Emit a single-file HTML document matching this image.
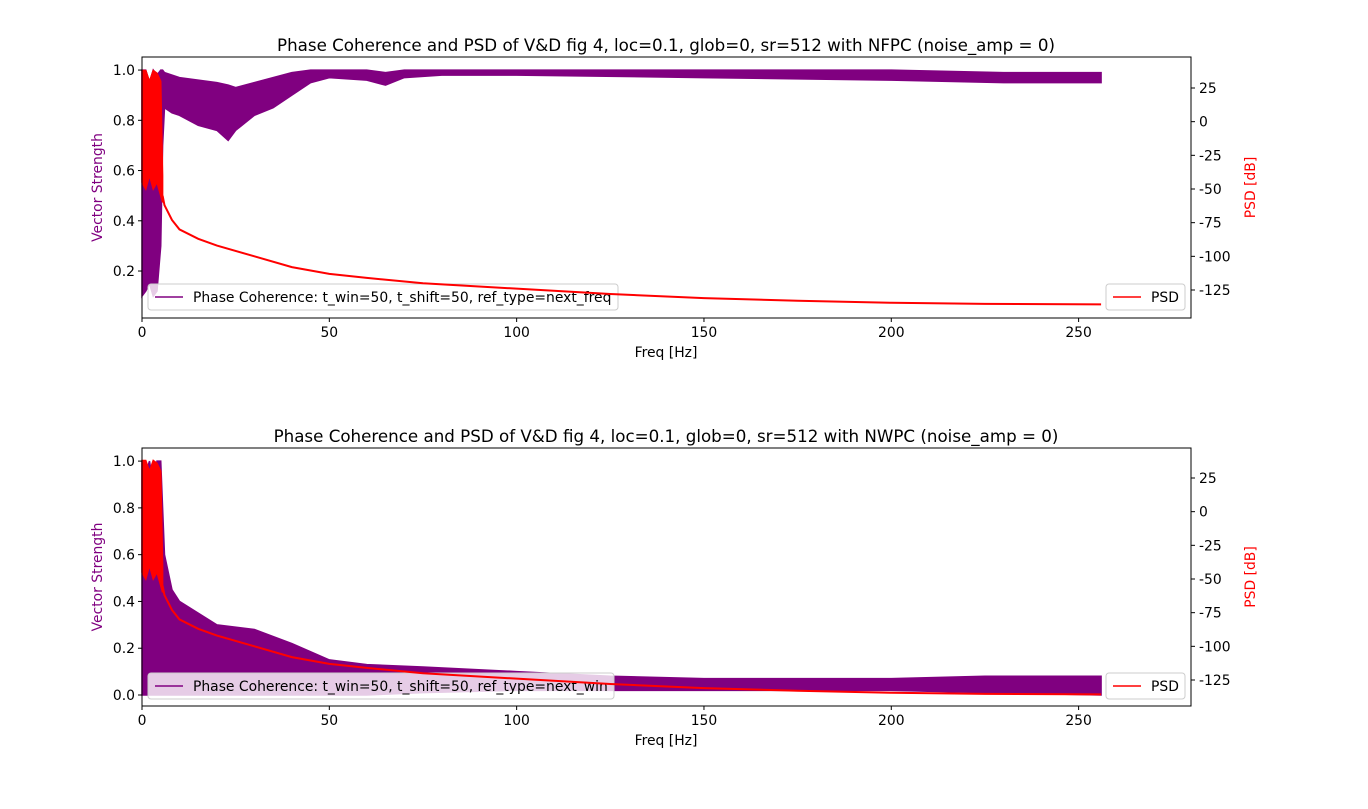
<!DOCTYPE html>
<html><head><meta charset="utf-8"><style>
body{margin:0;background:#fff}
svg text{font-family:"DejaVu Sans","Liberation Sans",sans-serif;}
</style></head><body>
<svg id="fig" width="1368" height="804" xmlns="http://www.w3.org/2000/svg"></svg>
<script>
// ---- data ----
const xTicks=[0,50,100,150,200,250];
const vsTicks1=[0.2,0.4,0.6,0.8,1.0];
const vsTicks2=[0.0,0.2,0.4,0.6,0.8,1.0];
const psdTicks=[25,0,-25,-50,-75,-100,-125];
// top: NFPC coherence envelope
const pc1Freq=[0,1,2,3,4,5,5.5,6,8,10,15,20,23,25,30,35,40,45,50,60,65,70,80,100,150,200,230,256];
const pc1Upper=[1.0,1.0,0.95,1.0,0.98,1.0,1.0,0.99,0.98,0.97,0.96,0.95,0.94,0.93,0.95,0.97,0.99,1.0,1.0,1.0,0.99,1.0,1.0,1.0,1.0,1.0,0.99,0.99];
const pc1Lower=[0.1,0.12,0.15,0.1,0.12,0.3,0.7,0.85,0.83,0.82,0.78,0.76,0.72,0.76,0.82,0.85,0.9,0.95,0.97,0.96,0.94,0.97,0.98,0.98,0.97,0.96,0.95,0.95];
// bottom: NWPC coherence envelope
const pc2Freq=[0,1,2,3,4,5,5.5,6,8,10,15,20,30,40,50,60,75,100,125,150,200,225,256];
const pc2Upper=[1.0,0.95,1.0,0.9,1.0,1.0,0.8,0.6,0.45,0.4,0.35,0.3,0.28,0.22,0.15,0.13,0.12,0.1,0.08,0.07,0.07,0.08,0.08];
const pc2Lower=[0.0,0.0,0.0,0.0,0.0,0.0,0.0,0.0,0.0,0.0,0.0,0.0,0.0,0.0,0.0,0.0,0.01,0.02,0.02,0.02,0.02,0.01,0.0];
// PSD
const psdNoiseFreq=[0,1,2,3,4,5,5.5];
const psdNoiseUpper=[38,38,30,38,36,30,-40];
const psdNoiseLower=[-45,-50,-40,-50,-45,-55,-60];
const psdFreq=[5.5,6,8,10,15,20,30,40,50,60,75,100,125,150,175,200,225,256];
const psdVals=[-55,-62,-73,-80,-87,-92,-100,-108,-113,-116,-120,-124,-128,-131,-133,-134.5,-135.3,-135.7];

const NS="http://www.w3.org/2000/svg";
const svg=document.getElementById('fig');
function mk(tag,attrs,parent){const e=document.createElementNS(NS,tag);for(const k in attrs)e.setAttribute(k,attrs[k]);(parent||svg).appendChild(e);return e;}
function txt(s,attrs,parent){const e=mk('text',attrs,parent);e.textContent=s;return e;}

const L=142,R=1191,FS=13.9;
const xs=f=>L+f*(R-L)/280;

function panel(cfg){
  const {top,bot,vmin,vmax,vticks,title,pcF,pcU,pcLo,label,id}=cfg;
  const ys=v=>bot-(v-vmin)/(vmax-vmin)*(bot-top);
  const dB0=cfg.db25, dbScale=(cfg.dbm125-cfg.db25)/150;
  const yd=d=>dB0+(25-d)*dbScale;
  const g=mk('g',{});
  
  
  let p=pcF.map((f,i)=>xs(f)+','+ys(pcU[i])).join(' ')+' '+pcF.map((f,i)=>xs(f)+','+ys(pcLo[i])).reverse().join(' ');
  const pc=mk('polygon',{points:p,fill:'#800080',stroke:'#800080','stroke-width':1.5},g);
  
  
  const lg=mk('g',{},g);
  
  
  mk('rect',{x:148,y:cfg.legY,width:cfg.legW,height:26,rx:3,fill:'rgba(255,255,255,0.8)',stroke:'#ccc'},lg);
  mk('line',{x1:155,x2:183,y1:cfg.legY+13,y2:cfg.legY+13,stroke:'#800080','stroke-width':1.5},lg);
  txt(label,{x:193,y:cfg.legY+18,'font-size':FS},lg);
  let pn=psdNoiseFreq.map((f,i)=>xs(f)+','+yd(psdNoiseUpper[i])).join(' ')+' '+psdNoiseFreq.map((f,i)=>xs(f)+','+yd(psdNoiseLower[i])).reverse().join(' ');
  const pnE=mk('polygon',{points:pn,fill:'#ff0000',stroke:'#ff0000','stroke-width':1.5},g);
  
  
  const pl=mk('polyline',{points:psdFreq.map((f,i)=>xs(f)+','+yd(psdVals[i])).join(' '),fill:'none',stroke:'#ff0000','stroke-width':2},g);
  
  
  const rg=mk('g',{},g);
  
  
  mk('rect',{x:1106,y:cfg.legY,width:79,height:26,rx:3,fill:'rgba(255,255,255,0.8)',stroke:'#ccc'},rg);
  mk('line',{x1:1113,x2:1141,y1:cfg.legY+13,y2:cfg.legY+13,stroke:'#ff0000','stroke-width':1.5},rg);
  txt('PSD',{x:1151,y:cfg.legY+18,'font-size':FS},rg);
  mk('rect',{x:L,y:top,width:R-L,height:bot-top,fill:'none',stroke:'#000','stroke-width':1},g);
  xTicks.forEach(t=>{mk('line',{x1:xs(t),x2:xs(t),y1:bot,y2:bot+4,stroke:'#000'},g);
    const e=txt(t,{x:xs(t),y:bot+19,'font-size':FS,'text-anchor':'middle'},g);
    });
  const xl=txt('Freq [Hz]',{x:666,y:bot+39,'font-size':FS,'text-anchor':'middle'},g);
  
  vticks.forEach(t=>{mk('line',{x1:L-4,x2:L,y1:ys(t),y2:ys(t),stroke:'#000'},g);
    const e=txt(t.toFixed(1),{x:L-7,y:ys(t)+5,'font-size':FS,'text-anchor':'end'},g);
    });
  const yl=txt('Vector Strength',{x:0,y:0,'font-size':FS,'text-anchor':'middle',fill:'#800080',transform:`translate(102,${(top+bot)/2}) rotate(-90)`},g);
  
  psdTicks.forEach(t=>{mk('line',{x1:R,x2:R+4,y1:yd(t),y2:yd(t),stroke:'#000'},g);
    const e=txt(t,{x:R+8,y:yd(t)+5,'font-size':FS},g);
    });
  const rl=txt('PSD [dB]',{x:0,y:0,'font-size':FS,'text-anchor':'middle',fill:'#ff0000',transform:`translate(1255,${(top+bot)/2}) rotate(-90)`},g);
  
  const ti=txt(title,{x:666,y:top-6,'font-size':16.7,'text-anchor':'middle'},g);
  
}
panel({id:'nfpc',top:57,bot:318,vmin:0.013,vmax:1.052,vticks:vsTicks1,db25:88,dbm125:290,legY:284,legW:470,
  title:'Phase Coherence and PSD of V&D fig 4, loc=0.1, glob=0, sr=512 with NFPC (noise_amp = 0)',
  pcF:pc1Freq,pcU:pc1Upper,pcLo:pc1Lower,label:'Phase Coherence: t_win=50, t_shift=50, ref_type=next_freq'});
panel({id:'nwpc',top:448,bot:706,vmin:-0.047,vmax:1.056,vticks:vsTicks2,db25:478,dbm125:680,legY:673,legW:466,
  title:'Phase Coherence and PSD of V&D fig 4, loc=0.1, glob=0, sr=512 with NWPC (noise_amp = 0)',
  pcF:pc2Freq,pcU:pc2Upper,pcLo:pc2Lower,label:'Phase Coherence: t_win=50, t_shift=50, ref_type=next_win'});
</script>
</body></html>
